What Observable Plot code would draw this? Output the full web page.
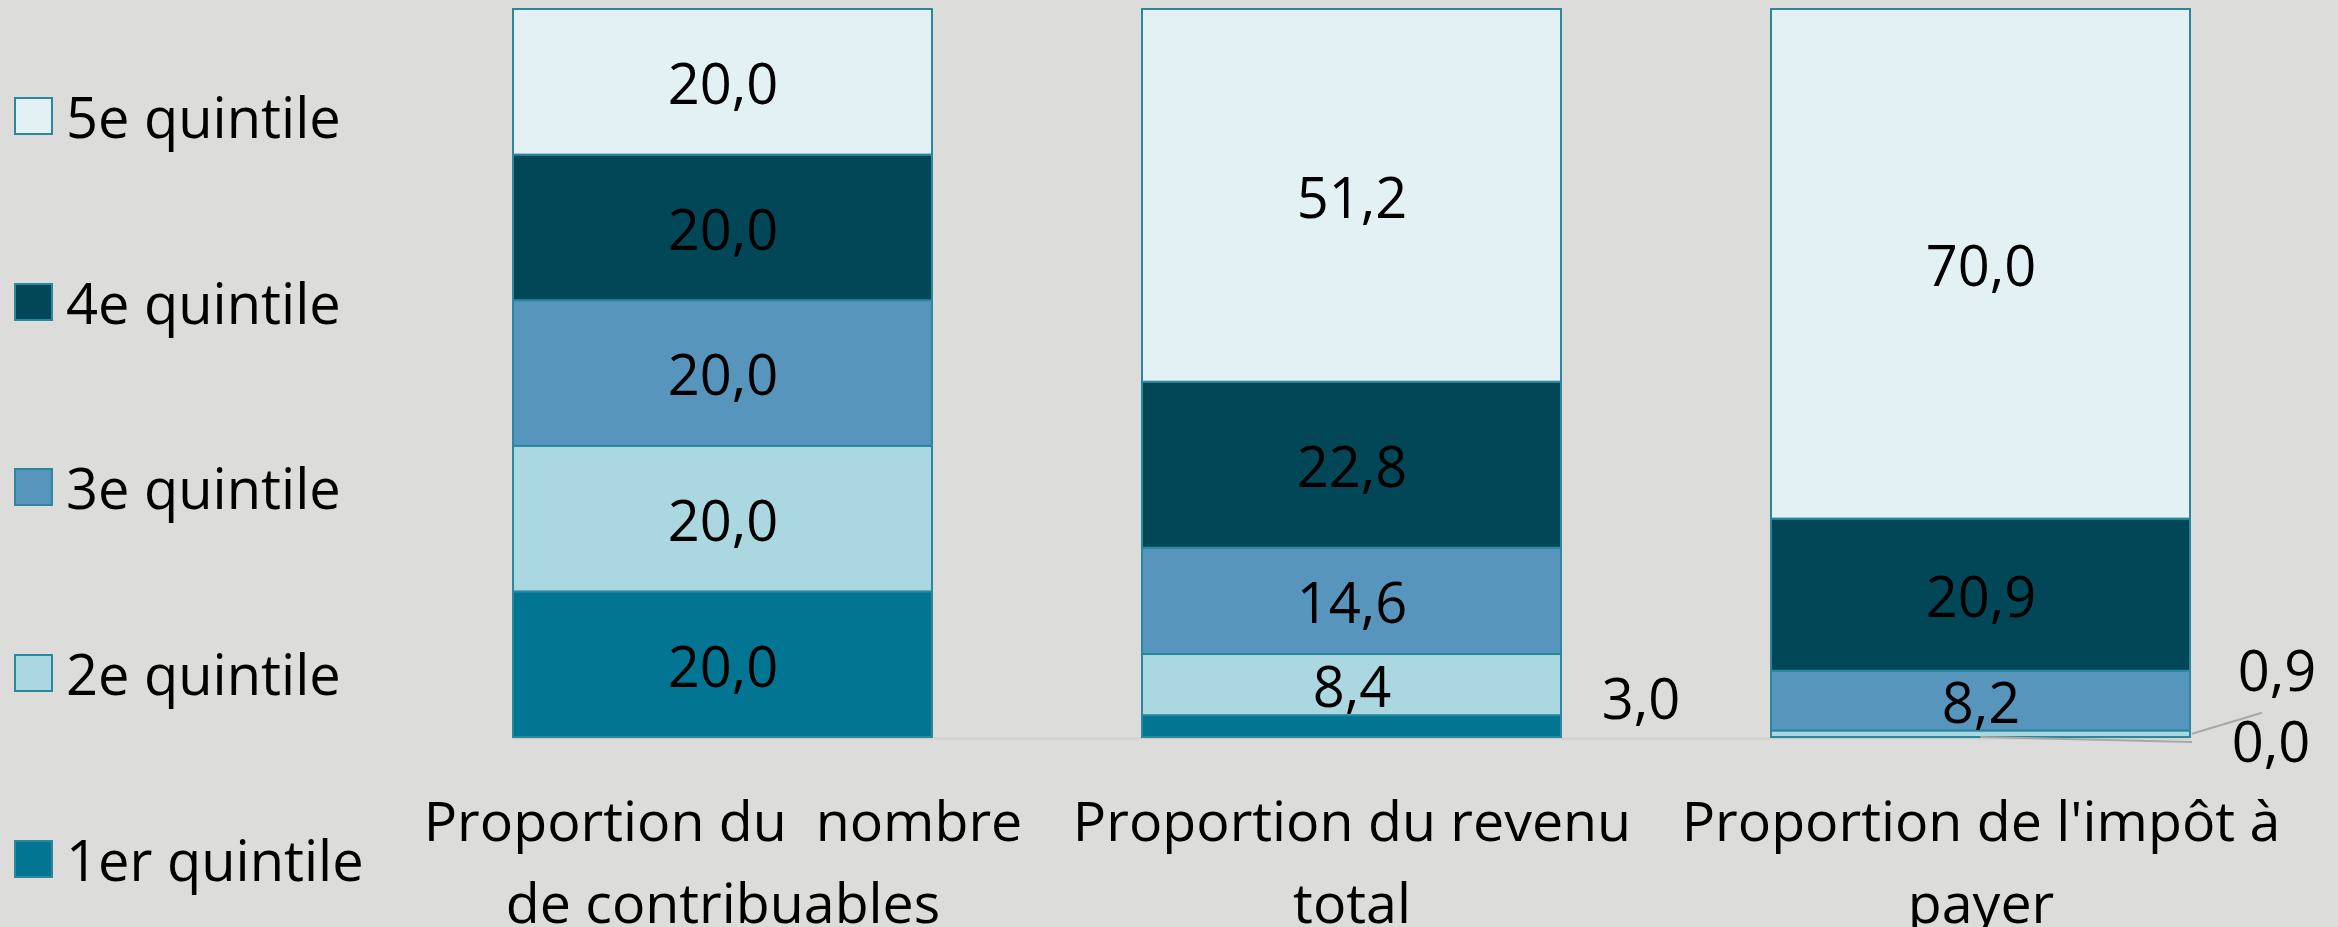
<!DOCTYPE html>
<html>
<head>
<meta charset="utf-8">
<script src="https://cdn.jsdelivr.net/npm/d3@7"></script>
<script src="https://cdn.jsdelivr.net/npm/@observablehq/plot@0.6"></script>
<style>
  html, body { margin: 0; padding: 0; background: #dcdcda; }
  #wrap { position: relative; width: 2338px; height: 927px; background: #dcdcda; font-family: "Open Sans", sans-serif; overflow: hidden; }
  #legend { position: absolute; left: 14px; top: 23px; }
  .item { height: 185.75px; display: flex; align-items: center; font-size: 56px; color: #000; }
  .sw { width: 35px; height: 34px; border: 2px solid #2a87a0; box-sizing: content-box; margin-right: 13px; }
  #chart { position: absolute; left: 0; top: 0; }
</style>
</head>
<body>
<div id="wrap">
  <div id="legend"></div>
  <div id="chart"></div>
</div>
<script>
// ---- data ----
const categories = [
  "Proportion du  nombre de contribuables",
  "Proportion du revenu total",
  "Proportion de l'impôt à payer"
];
const categoryLines = [
  "Proportion du  nombre\nde contribuables",
  "Proportion du revenu\ntotal",
  "Proportion de l'impôt à\npayer"
];
const quintiles = ["1er quintile", "2e quintile", "3e quintile", "4e quintile", "5e quintile"];
const colors = ["#017592", "#abd7e0", "#5895bd", "#024757", "#e3f1f5"];
// values per quintile (1er..5e) for each category
const nombre = [20.0, 20.0, 20.0, 20.0, 20.0];
const revenu = [3.0, 8.4, 14.6, 22.8, 51.2];
const impot  = [0.0, 0.9, 8.2, 20.9, 70.0];

const series = [nombre, revenu, impot];
const table = [];
quintiles.forEach((q, qi) => {
  categories.forEach((c, ci) => {
    table.push({category: c, quintile: q, qi, value: series[ci][qi]});
  });
});
table.sort((a, b) => a.qi - b.qi);
const fmt = v => v.toFixed(1).replace(".", ",");

// ---- legend (HTML, top-to-bottom 5e..1er) ----
const legend = d3.select("#legend");
quintiles.slice().reverse().forEach(q => {
  const i = quintiles.indexOf(q);
  const it = legend.append("div").attr("class", "item");
  it.append("div").attr("class", "sw").style("background", colors[i]);
  it.append("span").text(q);
});

// ---- chart ----
const font = "Open Sans, sans-serif";
const isOut = (c, q) => d => d.category === categories[c] && d.quintile === quintiles[q];

// stack over all rows; only the wanted labels get text
const labelStack = (pick) => Plot.stackY({
  x: "category", y: "value", z: "quintile",
  text: d => (pick(d) ? fmt(d.value) : null)
});

const chart = Plot.plot({
  width: 2338,
  height: 927,
  marginLeft: 513,
  marginRight: 148,
  marginTop: 9,
  marginBottom: 190,
  style: {background: "transparent", fontFamily: font},
  x: {domain: categories, paddingInner: 0.334, paddingOuter: 0, label: null},
  y: {domain: [0, 100], axis: null},
  color: {domain: quintiles, range: colors},
  marks: [
    Plot.ruleY([0], {stroke: "#cfcfcd", strokeWidth: 2, dy: 1}),
    Plot.barY(table, {x: "category", y: "value", z: "quintile", fill: "quintile", stroke: "#2a87a0", strokeWidth: 2}),
    Plot.text(table, {...labelStack(d => d.value >= 5), fontSize: 56, fill: "#000", dy: 4, fontFamily: font}),
    Plot.text(table, {...labelStack(isOut(1, 0)), fontSize: 56, fill: "#000", dx: 289, dy: -26, fontFamily: font}),
    Plot.text(table, {...labelStack(isOut(2, 1)), fontSize: 56, fill: "#000", dx: 296, dy: -61, fontFamily: font}),
    Plot.text(table, {...labelStack(isOut(2, 0)), fontSize: 56, fill: "#000", dx: 290, dy: 7, fontFamily: font}),
    Plot.axisX({
      tickSize: 0,
      tickPadding: 45,
      fontSize: 55.5,
      fill: "#000",
      lineHeight: 1.48,
      tickFormat: c => categoryLines[categories.indexOf(c)],
      label: null
    })
  ]
});
document.getElementById("chart").appendChild(chart);

// leader lines for the small labels, placed with the chart's own scales
const sx = chart.scale("x"), sy = chart.scale("y");
const svg = d3.select(chart);
const c3 = categories[2];
const left3 = sx.apply(c3), bw = sx.bandwidth;
const y0 = sy.apply(impot[0] / 2);
const y09 = sy.apply(impot[0] + impot[1] / 2);
const g = svg.append("g").attr("stroke", "#a8a8a6").attr("stroke-width", 2).attr("fill", "none");
g.append("line").attr("x1", left3 + bw / 2).attr("y1", y0).attr("x2", left3 + bw + 2).attr("y2", y0 + 5);
g.append("line").attr("x1", left3 + bw + 2).attr("y1", y09).attr("x2", left3 + bw + 72).attr("y2", y09 - 21);
</script>
</body>
</html>
